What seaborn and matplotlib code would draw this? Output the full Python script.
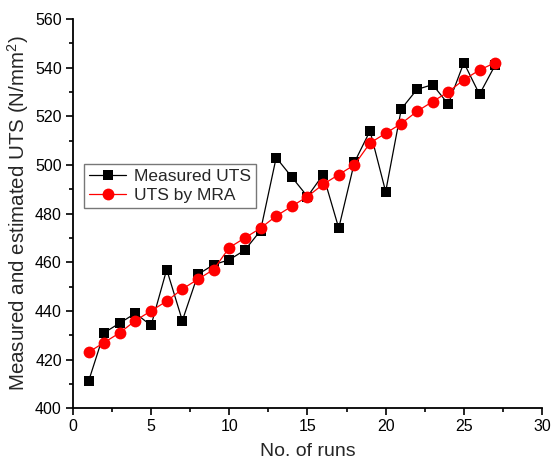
import matplotlib
matplotlib.use("Agg")
import matplotlib.pyplot as plt
from matplotlib.ticker import MultipleLocator
import seaborn as sns
import pandas as pd

runs = list(range(1, 28))
measured_uts = [411, 431, 435, 439, 434, 457, 436, 455, 459, 461, 465, 473, 503, 495,
                487, 496, 474, 501, 514, 489, 523, 531, 533, 525, 542, 529, 541]
mra_uts = [423, 427, 431, 436, 440, 444, 449, 453, 457, 466, 470, 474, 479, 483,
           487, 492, 496, 500, 509, 513, 517, 522, 526, 530, 535, 539, 542]

sns.set_theme(style="ticks")
plt.rcParams["font.family"] = ["Liberation Sans", "DejaVu Sans"]
plt.rcParams["mathtext.fontset"] = "custom"
plt.rcParams["mathtext.rm"] = "Liberation Sans"
plt.rcParams["mathtext.it"] = "Liberation Sans:italic"
plt.rcParams["mathtext.bf"] = "Liberation Sans:bold"

df = pd.DataFrame({"run": runs, "Measured UTS": measured_uts, "UTS by MRA": mra_uts})

fig = plt.figure(figsize=(5.52, 4.73), dpi=100)
ax = fig.add_axes([0.132, 0.137, 0.85, 0.823])

sns.lineplot(data=df, x="run", y="Measured UTS", ax=ax, color="black", linewidth=0.9,
             marker="s", markersize=7, markeredgewidth=0, markerfacecolor="black",
             label="Measured UTS")
sns.lineplot(data=df, x="run", y="UTS by MRA", ax=ax, color="#ff0000", linewidth=0.9,
             marker="o", markersize=8.5, markeredgewidth=0, markerfacecolor="#ff0000",
             label="UTS by MRA")

ax.set_xlim(0, 30)
ax.set_ylim(400, 560)
ax.xaxis.set_major_locator(MultipleLocator(5))
ax.xaxis.set_minor_locator(MultipleLocator(2.5))
ax.yaxis.set_major_locator(MultipleLocator(20))
ax.yaxis.set_minor_locator(MultipleLocator(10))
ax.tick_params(axis="both", which="major", direction="out", length=5, width=1.2,
               labelsize=11.5, color="black", labelcolor="black", pad=3)
ax.tick_params(axis="both", which="minor", direction="out", length=3, width=1.2, color="black")

for side in ("top", "right"):
    ax.spines[side].set_visible(False)
for side in ("left", "bottom"):
    ax.spines[side].set_linewidth(1.3)
    ax.spines[side].set_color("black")

ax.set_xlabel("No. of runs", fontsize=14, labelpad=6)
ax.set_ylabel("Measured and estimated UTS (N/mm$^{\\mathregular{2}}$)", fontsize=14.8, labelpad=3)

leg = ax.legend(loc="upper left", bbox_to_anchor=(0.024, 0.627), fontsize=12.5,
                frameon=True, fancybox=False, edgecolor="#555555", borderpad=0.3,
                handlelength=2.1, handletextpad=0.45, labelspacing=0.2, borderaxespad=0)
leg.get_frame().set_linewidth(1.0)

fig.savefig("out.png", dpi=100)
